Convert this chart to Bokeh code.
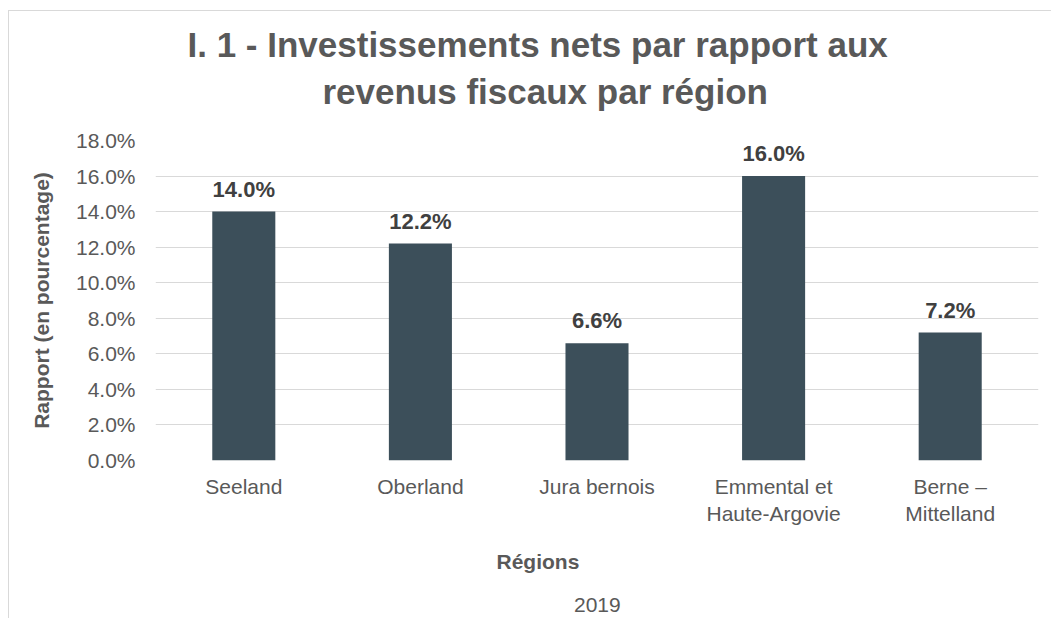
from bokeh.plotting import figure
from bokeh.layouts import column
from bokeh.models import (ColumnDataSource, FactorRange, Range1d, FixedTicker,
                          NumeralTickFormatter, LabelSet, Title, Legend, LegendItem)
from bokeh.embed import file_html
from bokeh.resources import INLINE
from bokeh.core.properties import value

# ---- data ----
regions = ["Seeland", "Oberland", "Jura bernois",
           "Emmental et\nHaute-Argovie", "Berne –\nMittelland"]
values_2019 = [0.140, 0.122, 0.066, 0.160, 0.072]
value_labels = ["14.0%", "12.2%", "6.6%", "16.0%", "7.2%"]
y_ticks = [0.0, 0.02, 0.04, 0.06, 0.08, 0.10, 0.12, 0.14, 0.16, 0.18]
series_name = "2019"
title_lines = ["I. 1 - Investissements nets par rapport aux",
               "revenus fiscaux par région"]
x_title = "Régions"
y_title = "Rapport (en pourcentage)"

FONT = "Liberation Sans"
TXT = "#595959"
BAR = "#3C4F5A"
GRID = "#D9D9D9"

src = ColumnDataSource(dict(region=regions, val=values_2019, lab=value_labels))

p = figure(x_range=FactorRange(*regions), y_range=Range1d(0, 0.18),
           frame_width=883, frame_height=320,
           output_backend="svg", toolbar_location=None,
           min_border_left=146, min_border_right=13, min_border_top=129,
           min_border_bottom=0)
p.outline_line_color = None
p.background_fill_color = "white"
p.border_fill_color = "white"

r = p.vbar(x="region", top="val", width=0.357, source=src,
           fill_color=BAR, line_color=None)

# axes
p.yaxis.ticker = FixedTicker(ticks=y_ticks)
p.yaxis.formatter = NumeralTickFormatter(format="0.0%")
for ax in (p.xaxis[0], p.yaxis[0]):
    ax.axis_line_color = None
    ax.major_tick_line_color = None
    ax.minor_tick_line_color = None
    ax.major_tick_out = 0
    ax.major_tick_in = 0
    ax.major_label_text_font = FONT
    ax.major_label_text_font_size = "21px"
    ax.major_label_text_color = TXT
    ax.axis_label_text_font = FONT
    ax.axis_label_text_font_size = "21px"
    ax.axis_label_text_font_style = "bold"
    ax.axis_label_text_color = TXT
p.yaxis.major_label_standoff = 20
p.yaxis.axis_label = y_title
p.yaxis.axis_label_standoff = 20
p.xaxis.major_label_standoff = 14

p.xgrid.grid_line_color = None
p.ygrid.grid_line_color = GRID
p.ygrid.grid_line_width = 1

# data labels
p.add_layout(LabelSet(x="region", y="val", text="lab", source=src,
                      text_align="center", text_baseline="alphabetic",
                      y_offset=15, text_font=value(FONT),
                      text_font_size="22px", text_font_style="bold",
                      text_color="#404040"))

# title: two lines (first added sits nearest the plot)
p.add_layout(Title(text=title_lines[1], align="left", offset=167, standoff=59,
                   text_font=FONT, text_font_size="35px",
                   text_font_style="bold", text_color=TXT), "above")
p.add_layout(Title(text=title_lines[0], align="left", offset=32, standoff=-46,
                   text_font=FONT, text_font_size="35px",
                   text_font_style="bold", text_color=TXT), "above")

# x-axis title, centred on the chart as in the reference
p.add_layout(Title(text=x_title, align="left", offset=341, standoff=39,
                   text_font=FONT, text_font_size="21px",
                   text_font_style="bold", text_color=TXT), "below")

# ---- legend strip under the chart ----
leg = figure(width=1042, height=26, output_backend="svg", toolbar_location=None,
             x_axis_location=None, y_axis_location=None,
             min_border_left=31, min_border_right=0, min_border_top=0,
             min_border_bottom=0)
leg.outline_line_color = None
leg.background_fill_color = "white"
leg.border_fill_color = "white"
leg.xgrid.visible = False
leg.ygrid.visible = False
r_leg = leg.vbar(x=[], top=[], width=0.357, fill_color=BAR, line_color=None)

legend = Legend(items=[LegendItem(label=series_name, renderers=[r_leg])],
                location="center", orientation="horizontal",
                glyph_width=12, glyph_height=12, label_standoff=3,
                label_width=60, padding=0, margin=0, spacing=0,
                label_text_font=FONT, label_text_font_size="21px",
                label_text_color=TXT, border_line_color=None,
                background_fill_alpha=0)
leg.add_layout(legend, "center")

layout = column(p, leg, spacing=0,
                styles={"margin-left": "8px", "margin-top": "10px",
                        "border-top": "1px solid #D9D9D9",
                        "border-left": "1px solid #D9D9D9"})

open("out.html", "w").write(file_html(layout, INLINE))
